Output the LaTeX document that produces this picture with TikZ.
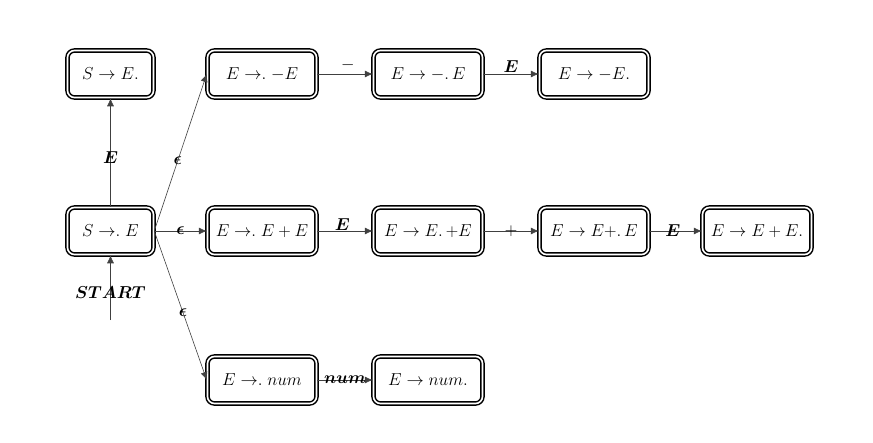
\documentclass[tikz,border=0pt]{standalone}
\usepackage{amsmath,bm}
\usetikzlibrary{arrows.meta}
\newcommand{\dotarrow}{\mathrel{{\rightarrow}.}}
\begin{document}
\begin{tikzpicture}[x=1pt,y=-1pt,
  state/.style={draw, double, double distance=1.6pt, line width=1.5pt, rounded corners=7pt,
    minimum width=109pt, minimum height=47pt, inner sep=0pt, font=\fontsize{16.5}{19}\selectfont},
  narrow/.style={minimum width=86pt},
  edge/.style={draw=black!75, line width=0.6pt, -{Latex[length=8pt,width=7pt]}},
  lbl/.style={font=\fontsize{16.5}{19}\selectfont, inner sep=1pt}]
\useasboundingbox (0,0) rectangle (873,442);
% row 1
\node[state,narrow] (s1) at (110.5,74) {$S \rightarrow E.$};
\node[state] (a1) at (262,74) {$E \dotarrow {-}E$};
\node[state] (a2) at (428,74) {$E \rightarrow {-}.\,E$};
\node[state] (a3) at (594,74) {$E \rightarrow {-}E.$};
% row 2
\node[state,narrow] (s0) at (110.5,231) {$S \dotarrow E$};
\node[state] (b1) at (262,231) {$E \dotarrow E + E$};
\node[state] (b2) at (428,231) {$E \rightarrow E.\,{+}E$};
\node[state] (b3) at (594,231) {$E \rightarrow E{+}.\,E$};
\node[state] (b4) at (757,231) {$E \rightarrow E + E.$};
% row 3
\node[state] (c1) at (262,380) {$E \dotarrow num$};
\node[state] (c2) at (428,380) {$E \rightarrow num.$};
% connectors
\coordinate (st) at (110.5,320);
\draw[edge] (st) -- node[lbl,pos=0.43] {$\boldsymbol{START}$} (s0);
\draw[edge] (s0) -- node[lbl,pos=0.45] {$\boldsymbol{E}$} (s1);
\draw[edge] (s0.east) -- node[lbl,pos=0.45] {$\boldsymbol{\epsilon}$} (a1.west);
\draw[edge] (s0) -- node[lbl] {$\boldsymbol{\epsilon}$} (b1);
\draw[edge] (s0.east) -- node[lbl,pos=0.55] {$\boldsymbol{\epsilon}$} (c1.west);
\draw[edge] (a1) -- node[lbl,above,pos=0.55,inner sep=3pt] {$-$} (a2);
\draw[edge] (a2) -- node[lbl,above,inner sep=1.5pt] {$\boldsymbol{E}$} (a3);
\draw[edge] (b1) -- node[lbl,above,inner sep=0pt,pos=0.45] {$\boldsymbol{E}$} (b2);
\draw[edge] (b2) -- node[lbl] {$+$} (b3);
\draw[edge] (b3) -- node[lbl,pos=0.45] {$\boldsymbol{E}$} (b4);
\draw[edge] (c1) -- node[lbl] {$\boldsymbol{num}$} (c2);
\end{tikzpicture}
\end{document}
